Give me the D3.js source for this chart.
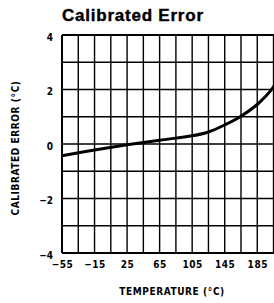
<!DOCTYPE html>
<html>
<head>
<meta charset="utf-8">
<script src="https://cdn.jsdelivr.net/npm/d3@7"></script>
<style>
  html, body { margin: 0; padding: 0; background: #fff; }
  svg { display: block; }
  .lbl { font-family: "Liberation Sans Narrow", "DejaVu Sans Condensed", "Liberation Sans", Arial, sans-serif; font-weight: bold; fill: #000; }
</style>
</head>
<body>
<svg id="chart" width="274" height="303"></svg>
<script>
const title = "Calibrated Error";
const xTitle = "TEMPERATURE (°C)";
const yTitle = "CALIBRATED ERROR (°C)";
const xTickLabels = [-55, -15, 25, 65, 105, 145, 185];
const yTickLabels = [-4, -2, 0, 2, 4];
const xGrid = [-55, -35, -15, 5, 25, 45, 65, 85, 105, 125, 145, 165, 185, 205, 225];
const yGrid = [-4, -3, -2, -1, 0, 1, 2, 3, 4];
const temps = [-55, -15, 25, 65, 105, 125, 145, 165, 185, 195, 205, 215];
const errors = [-0.43, -0.22, -0.03, 0.14, 0.30, 0.44, 0.70, 1.02, 1.45, 1.74, 2.10, 2.70];

const svg = d3.select("#chart");
const x = d3.scaleLinear().domain([-55, 225]).range([62, 289.8]);
const y = d3.scaleLinear().domain([-4, 4]).range([253, 35]);

// grid
const g = svg.append("g");
g.selectAll("line.v").data(xGrid).enter().append("line")
  .attr("x1", d => x(d)).attr("x2", d => x(d))
  .attr("y1", y(4)).attr("y2", y(-4))
  .attr("stroke", "#000").attr("stroke-width", d => d === -55 ? 2 : 1.4);
g.selectAll("line.h").data(yGrid).enter().append("line")
  .attr("x1", x(-55)).attr("x2", x(225))
  .attr("y1", d => y(d)).attr("y2", d => y(d))
  .attr("stroke", "#000").attr("stroke-width", d => (d === 4 || d === -4) ? 2 : 1.4);

// curve
const line = d3.line().x((d, i) => x(temps[i])).y(d => y(d)).curve(d3.curveCatmullRom.alpha(0.5));
svg.append("path").datum(errors).attr("d", line)
  .attr("fill", "none").attr("stroke", "#000").attr("stroke-width", 3);

// axes labels
const xAxis = d3.axisBottom(x).tickValues(xTickLabels).tickSize(0).tickPadding(0)
  .tickFormat(d => d < 0 ? "\u2212" + Math.abs(d) : d);
const xa = svg.append("g").attr("transform", "translate(0,268)").call(xAxis);
xa.select(".domain").remove();
xa.selectAll("text").attr("class", "lbl").attr("dy", 0).attr("y", 0)
  .style("font-size", "10px").style("letter-spacing", "0.5px");

const yAxis = d3.axisLeft(y).tickValues(yTickLabels).tickSize(0).tickPadding(0)
  .tickFormat(d => d < 0 ? "\u2212" + Math.abs(d) : d);
const ya = svg.append("g").attr("transform", "translate(53,2)").call(yAxis);
ya.select(".domain").remove();
ya.selectAll("text").attr("class", "lbl").attr("x", 0)
  .style("font-size", "10px");

svg.append("text").attr("class", "lbl").attr("x", 62).attr("y", 21)
  .style("font-family", "Arial, 'Liberation Sans', sans-serif")
  .style("font-size", "17px").style("stroke", "#000").style("stroke-width", "0.4px")
  .attr("textLength", 141).attr("lengthAdjust", "spacing")
  .text(title);

svg.append("text").attr("class", "lbl").attr("x", 172).attr("y", 295)
  .attr("text-anchor", "middle").style("font-size", "10px").style("letter-spacing", "0.6px")
  .text(xTitle);

svg.append("text").attr("class", "lbl")
  .attr("transform", "translate(19,148) rotate(-90)")
  .attr("text-anchor", "middle").style("font-size", "10px").style("letter-spacing", "0.6px")
  .text(yTitle);
</script>
</body>
</html>
